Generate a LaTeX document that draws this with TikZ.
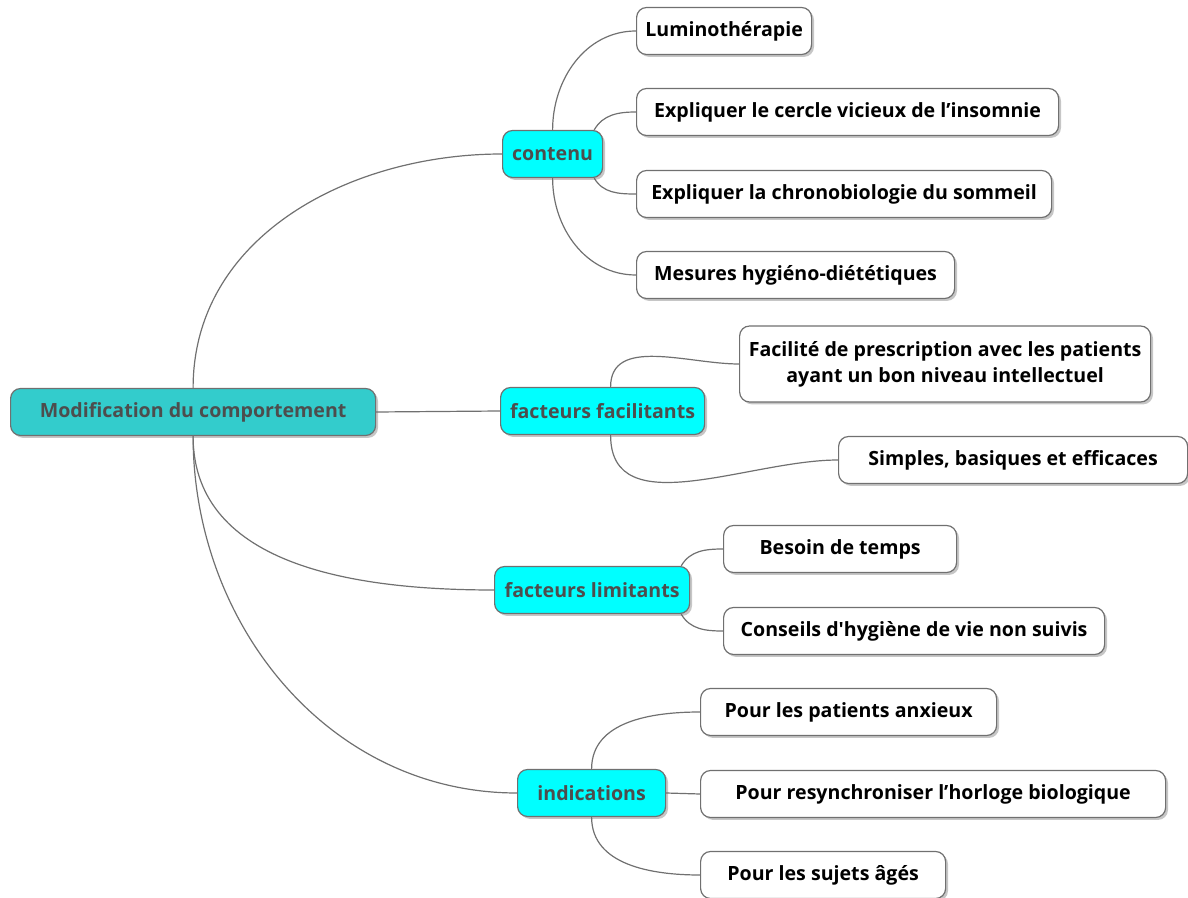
\documentclass[tikz,border=0pt]{standalone}
\usepackage{fontspec}
\setmainfont{Open Sans}[Ligatures=TeXOff]
\usetikzlibrary{shadows,calc}
\definecolor{rootfill}{HTML}{33CCCC}
\definecolor{branchfill}{HTML}{00FFFF}
\definecolor{txtgray}{HTML}{4D4D4D}
\definecolor{edgegray}{HTML}{707070}
\tikzset{
  box/.style={draw=edgegray, line width=0.6pt, rounded corners=5pt, font=\fontsize{9.8}{13}\selectfont\bfseries,
    minimum height=23.5pt, inner xsep=3pt, align=center, anchor=west,
    drop shadow={shadow xshift=1.2pt, shadow yshift=-1.2pt, opacity=0.45, fill=gray}},
  wd/.style={minimum width=#1*0.5pt},
  rootbox/.style={box, fill=rootfill, text=txtgray},
  branch/.style={box, fill=branchfill, text=txtgray},
  leaf/.style={box, fill=white, text=black},
  link/.style={draw=edgegray, line width=0.6pt}
}
\begin{document}
\begin{tikzpicture}[x=0.5pt, y=0.5pt]
\useasboundingbox (0,0) rectangle (1188,-898);

\node[rootbox, wd=365] (root) at (10,-412) {Modification du comportement};

\node[branch, wd=100] (cont) at (502,-154) {contenu};
\node[branch, wd=204] (fac) at (500,-411) {facteurs facilitants};
\node[branch, wd=195] (lim) at (494,-590) {facteurs limitants};
\node[branch, wd=148] (ind) at (517,-793) {indications};

\node[leaf, wd=175] (lum) at (636,-31) {Luminothérapie};
\node[leaf, wd=422] (cer) at (636,-112) {Expliquer le cercle vicieux de l’insomnie};
\node[leaf, wd=415] (chr) at (636,-194) {Expliquer la chronobiologie du sommeil};
\node[leaf, wd=318] (mes) at (636,-275) {Mesures hygiéno-diététiques};

\node[leaf, wd=411, minimum height=38pt] (faci) at (739,-364) {Facilité de prescription avec les patients\\ayant un bon niveau intellectuel};
\node[leaf, wd=349] (sim) at (838,-460) {Simples, basiques et efficaces};

\node[leaf, wd=233] (bes) at (723,-549) {Besoin de temps};
\node[leaf, wd=381] (con) at (723,-631) {Conseils d'hygiène de vie non suivis};

\node[leaf, wd=296] (anx) at (700,-712) {Pour les patients anxieux};
\node[leaf, wd=465] (res) at (700,-794) {Pour resynchroniser l’horloge biologique};
\node[leaf, wd=245] (age) at (700,-875) {Pour les sujets âgés};

% root to branches
\draw[link] (root.north) to[out=90, in=180] (cont.west);
\draw[link] (root.east) -- (fac.west);
\draw[link] (root.south) to[out=-90, in=180] (lim.west);
\draw[link] (root.south) to[out=-90, in=180] (ind.west);

% contenu
\draw[link] (cont.north) to[out=90, in=180] (lum.west);
\draw[link] ($(cont.north east)+(-9,0)$) to[out=60, in=180] (cer.west);
\draw[link] ($(cont.south east)+(-9,0)$) to[out=-60, in=180] (chr.west);
\draw[link] (cont.south) to[out=-90, in=180] (mes.west);

% facteurs facilitants
\draw[link] ($(fac.north)+(8,0)$) to[out=90, in=180] (faci.west);
\draw[link] ($(fac.south)+(8,0)$) to[out=-90, in=180] (sim.west);

% facteurs limitants
\draw[link] ($(lim.north east)+(-9,0)$) to[out=60, in=180] (bes.west);
\draw[link] ($(lim.south east)+(-9,0)$) to[out=-60, in=180] (con.west);

% indications
\draw[link] (ind.north) to[out=90, in=180] (anx.west);
\draw[link] (ind.east) -- (res.west);
\draw[link] (ind.south) to[out=-90, in=180] (age.west);
\end{tikzpicture}
\end{document}
